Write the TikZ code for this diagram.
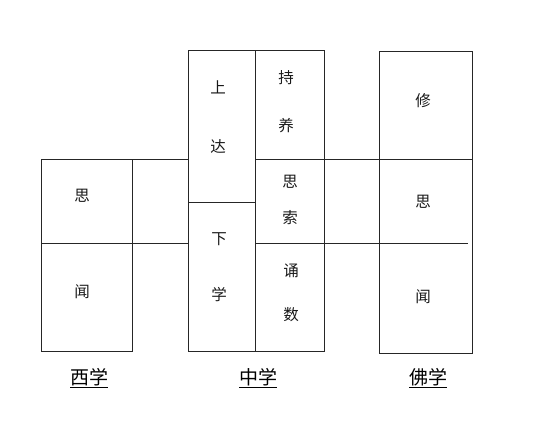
\documentclass[tikz,border=0pt]{standalone}
\usepackage{fontspec}
\newfontfamily\cjk{Noto Sans CJK SC}
\begin{document}
\begin{tikzpicture}[x=1pt,y=-1pt,
  ln/.style={line width=0.9pt, draw=black!85},
  ch/.style={font=\cjk\fontsize{15.5}{17}\selectfont, text=black!90, inner sep=0pt},
  lab/.style={font=\cjk\fontsize{19}{22}\selectfont, inner sep=0pt}]
\useasboundingbox (0,0) rectangle (554,433);
% West column
\draw[ln] (41,159) rectangle (132,351.5);
\draw[ln] (41,243) -- (132,243);
% Middle column
\draw[ln] (188,50.5) rectangle (255,351);
\draw[ln] (255,50.5) rectangle (324,351);
\draw[ln] (188,202.5) -- (255,202.5);
\draw[ln] (255,159) -- (324,159);
\draw[ln] (255,243) -- (324,243);
% Buddhist column
\draw[ln] (379,51) rectangle (472,353);
% connectors
\coordinate (a1) at (132,159); \coordinate (a2) at (188,159);
\coordinate (b1) at (132,243); \coordinate (b2) at (188,243);
\coordinate (c1) at (324,159); \coordinate (c2) at (473,159);
\coordinate (d1) at (324,243); \coordinate (d2) at (468,243);
\draw[ln] (a1) -- (a2);
\draw[ln] (b1) -- (b2);
\draw[ln] (c1) -- (c2);
\draw[ln] (d1) -- (d2);
% texts
\node[ch] (w1) at (82,196) {思};
\node[ch] (w2) at (82,292) {闻};
\node[ch] (m1) at (218,87) {上};
\node[ch] (m2) at (218,147) {达};
\node[ch] (m3) at (219,239) {下};
\node[ch] (m4) at (219,295) {学};
\node[ch] (n1) at (286,78) {持};
\node[ch] (n2) at (286,126) {养};
\node[ch] (n3) at (290,182) {思};
\node[ch] (n4) at (290,218) {索};
\node[ch] (n5) at (291,271) {诵};
\node[ch] (n6) at (291,315) {数};
\node[ch] (f1) at (423,101) {修};
\node[ch] (f2) at (423,202) {思};
\node[ch] (f3) at (423,297) {闻};
\node[lab] (L1) at (89,378) {\underline{西学}};
\node[lab] (L2) at (258,378) {\underline{中学}};
\node[lab] (L3) at (428,378) {\underline{佛学}};
\end{tikzpicture}
\end{document}
